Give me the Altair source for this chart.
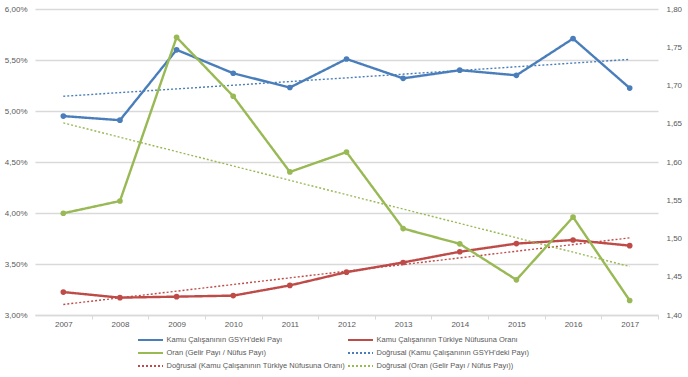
import altair as alt
import pandas as pd

years = list(range(2007, 2018))
gsyh_payi = [4.95, 4.91, 5.60, 5.37, 5.23, 5.51, 5.32, 5.40, 5.35, 5.71, 5.225]
nufus_orani = [3.225, 3.17, 3.18, 3.19, 3.29, 3.42, 3.515, 3.62, 3.70, 3.735, 3.68]
oran = [1.533, 1.549, 1.763, 1.686, 1.587, 1.613, 1.513, 1.493, 1.446, 1.528, 1.419]

names = [
    "Kamu Çalışanının GSYH’deki Payı",
    "Kamu Çalışanının Türkiye Nüfusuna Oranı",
    "Oran (Gelir Payı / Nüfus Payı)",
]
trend_names = ["Doğrusal (" + n + ")" for n in names]
domain = [names[0], names[1], names[2], trend_names[0], trend_names[1], trend_names[2]]
colors = ["#4A7EBB", "#BE4B48", "#98B954", "#4A7EBB", "#BE4B48", "#98B954"]
dashes = [[1, 0], [1, 0], [1, 0], [2, 2], [2, 2], [2, 2]]

left_ticks = [3.0, 3.5, 4.0, 4.5, 5.0, 5.5, 6.0]
right_ticks = [1.40, 1.45, 1.50, 1.55, 1.60, 1.65, 1.70, 1.75, 1.80]

rows = []
for s, vals in zip(names, [gsyh_payi, nufus_orani, oran]):
    for y, v in zip(years, vals):
        rows.append({"year": y, "value": v, "series": s})
df = pd.DataFrame(rows)

FONT = "Liberation Sans"
TXT = "#595959"
band = 623 / 11 / 2

legend = alt.Legend(
    title=None, orient="none", legendX=103, legendY=325, columns=2,
    direction="horizontal",
    symbolType="M-2.5,0L2.5,0", symbolSize=100, symbolStrokeWidth=2,
    symbolOffset=6.5,
    labelFont=FONT, labelFontSize=7.5, labelColor=TXT, labelOffset=10,
    rowPadding=3, columnPadding=-1, labelLimit=400,
)
C = alt.Color("label:N", scale=alt.Scale(domain=domain, range=colors), legend=legend)
D = alt.StrokeDash("label:N", scale=alt.Scale(domain=domain, range=dashes), legend=legend)
Cn = alt.Color("label:N", scale=alt.Scale(domain=domain, range=colors), legend=None)

X = alt.X(
    "year:Q",
    scale=alt.Scale(domain=[2006.5, 2017.5], nice=False, zero=False),
    axis=alt.Axis(
        values=[2006] + years, labelExpr="datum.value < 2007 ? '' : format(datum.value, 'd')",
        tickOffset=band, labelOffset=-band, grid=False, title=None,
        domainColor="#D9D9D9", domainWidth=1.5, tickColor="#D9D9D9", tickSize=4,
        labelFont=FONT, labelFontSize=8, labelColor=TXT, labelPadding=1,
    ),
)
YL = alt.Y(
    "value:Q",
    scale=alt.Scale(domain=[3, 6], nice=False, zero=False),
    axis=alt.Axis(
        values=left_ticks, labelExpr="replace(format(datum.value, '.2f'), '.', ',') + '%'",
        grid=True, gridColor="#D9D9D9", gridWidth=1.5, domain=False, ticks=False,
        title=None, labelFont=FONT, labelFontSize=8, labelColor=TXT, labelPadding=8,
    ),
)
YR = alt.Y(
    "value:Q",
    scale=alt.Scale(domain=[1.4, 1.8], nice=False, zero=False),
    axis=alt.Axis(
        orient="right", values=right_ticks,
        labelExpr="replace(format(datum.value, '.2f'), '.', ',')",
        grid=False, domain=False, ticks=False, title=None,
        labelFont=FONT, labelFontSize=8, labelColor=TXT, labelPadding=8,
    ),
)

base = alt.Chart(df).transform_calculate(label="datum.series")
left = base.transform_filter(alt.FieldOneOfPredicate(field="series", oneOf=names[:2]))
right = base.transform_filter(alt.FieldEqualPredicate(field="series", equal=names[2]))


def layers(b, Y):
    trend = (
        b.transform_regression("year", "value", groupby=["series"])
        .transform_calculate(label="'Doğrusal (' + datum.series + ')'")
        .mark_line(strokeWidth=1.4)
        .encode(x=X, y=Y, color=C, strokeDash=D)
    )
    line = b.mark_line(strokeWidth=2.4).encode(x=X, y=Y, color=C, strokeDash=D)
    pts = b.mark_circle(size=32, opacity=1).encode(x=X, y=Y, color=Cn)
    return alt.layer(trend, line, pts)


chart = (
    alt.layer(layers(left, YL), layers(right, YR))
    .resolve_scale(y="independent")
    .properties(
        width=623, height=306,
        autosize=alt.AutoSizeParams(type="none"),
        padding={"left": 35, "top": 9, "right": 30, "bottom": 62},
        background="white",
    )
    .configure_view(stroke=None)
)

chart.save("out.html", embed_options={"renderer": "svg", "actions": False})
